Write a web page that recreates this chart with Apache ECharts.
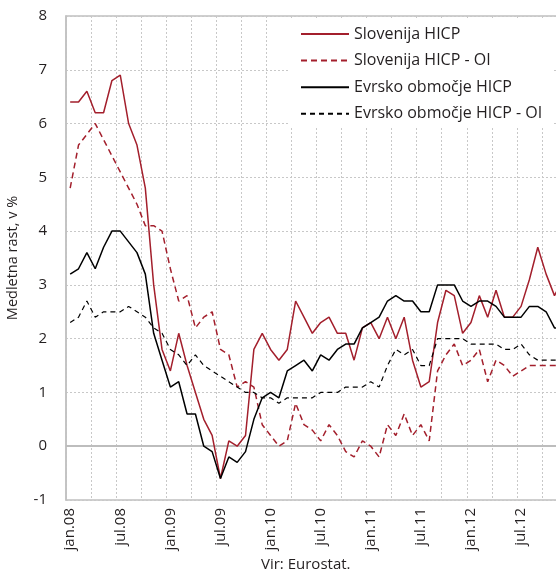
<!DOCTYPE html>
<html>
<head>
<meta charset="utf-8">
<script src="https://cdn.jsdelivr.net/npm/echarts@6/dist/echarts.min.js"></script>
<style>
html,body{margin:0;padding:0;background:#fff;overflow:hidden;width:556px;height:576px;}
#chart{width:567px;height:576px;}
</style>
</head>
<body>
<div id="chart"></div>
<script>
// Months jan.08 .. dec.12
const monthNames = ['jan','feb','mar','apr','maj','jun','jul','avg','sep','okt','nov','dec'];
const years = ['08','09','10','11','12'];
const categories = [];
years.forEach(y => monthNames.forEach(m => categories.push(m + '.' + y)));

const sloHICP = [
  6.4, 6.4, 6.6, 6.2, 6.2, 6.8, 6.9, 6.0, 5.6, 4.8, 3.0, 1.8,
  1.4, 2.1, 1.5, 1.0, 0.5, 0.2, -0.6, 0.1, 0.0, 0.2, 1.8, 2.1,
  1.8, 1.6, 1.8, 2.7, 2.4, 2.1, 2.3, 2.4, 2.1, 2.1, 1.6, 2.2,
  2.3, 2.0, 2.4, 2.0, 2.4, 1.6, 1.1, 1.2, 2.3, 2.9, 2.8, 2.1,
  2.3, 2.8, 2.4, 2.9, 2.4, 2.4, 2.6, 3.1, 3.7, 3.2, 2.8, 3.1
];
const sloCore = [
  4.8, 5.6, 5.8, 6.0, 5.7, 5.4, 5.1, 4.8, 4.5, 4.1, 4.1, 4.0,
  3.3, 2.7, 2.8, 2.2, 2.4, 2.5, 1.8, 1.7, 1.1, 1.2, 1.1, 0.4,
  0.2, 0.0, 0.1, 0.8, 0.4, 0.3, 0.1, 0.4, 0.2, -0.1, -0.2, 0.1,
  0.0, -0.2, 0.4, 0.2, 0.6, 0.2, 0.4, 0.1, 1.4, 1.7, 1.9, 1.5,
  1.6, 1.8, 1.2, 1.6, 1.5, 1.3, 1.4, 1.5, 1.5, 1.5, 1.5, 1.5
];
const euroHICP = [
  3.2, 3.3, 3.6, 3.3, 3.7, 4.0, 4.0, 3.8, 3.6, 3.2, 2.1, 1.6,
  1.1, 1.2, 0.6, 0.6, 0.0, -0.1, -0.6, -0.2, -0.3, -0.1, 0.5, 0.9,
  1.0, 0.9, 1.4, 1.5, 1.6, 1.4, 1.7, 1.6, 1.8, 1.9, 1.9, 2.2,
  2.3, 2.4, 2.7, 2.8, 2.7, 2.7, 2.5, 2.5, 3.0, 3.0, 3.0, 2.7,
  2.6, 2.7, 2.7, 2.6, 2.4, 2.4, 2.4, 2.6, 2.6, 2.5, 2.2, 2.2
];
const euroCore = [
  2.3, 2.4, 2.7, 2.4, 2.5, 2.5, 2.5, 2.6, 2.5, 2.4, 2.2, 2.1,
  1.8, 1.7, 1.5, 1.7, 1.5, 1.4, 1.3, 1.2, 1.1, 1.0, 1.0, 0.9,
  0.9, 0.8, 0.9, 0.9, 0.9, 0.9, 1.0, 1.0, 1.0, 1.1, 1.1, 1.1,
  1.2, 1.1, 1.5, 1.8, 1.7, 1.8, 1.5, 1.5, 2.0, 2.0, 2.0, 2.0,
  1.9, 1.9, 1.9, 1.9, 1.8, 1.8, 1.9, 1.7, 1.6, 1.6, 1.6, 1.6
];
const seriesNames = ['Slovenija HICP', 'Slovenija HICP - OI', 'Evrsko območje HICP', 'Evrsko območje HICP - OI'];
const yTicks = { min: -1, max: 8, step: 1 };
const yAxisTitle = 'Medletna rast, v %';
const sourceNote = 'Vir: Eurostat.';

const FONT = 'Open Sans';
const RED = '#a31f2c';
const BLACK = '#000000';
const GRIDC = '#c8c8c8';
const TXT = '#231f20';

const chart = echarts.init(document.getElementById('chart'), null, { renderer: 'canvas' });

function lineSeries(name, data, color, type, width) {
  return {
    name: name, type: 'line', data: data,
    symbol: 'none', showSymbol: false, smooth: false,
    lineStyle: { color: color, width: width, type: type },
    itemStyle: { color: color },
    emphasis: { disabled: true },
    z: 3
  };
}

const series = [
  lineSeries(seriesNames[0], sloHICP, RED, 'solid', 1.5),
  lineSeries(seriesNames[1], sloCore, RED, [6, 4], 1.5),
  lineSeries(seriesNames[2], euroHICP, BLACK, 'solid', 1.5),
  lineSeries(seriesNames[3], euroCore, BLACK, [5, 4], 1.2)
];
series[0].markLine = {
  silent: true, symbol: ['none', 'none'], label: { show: false },
  lineStyle: { color: '#bdbdbd', width: 2, type: 'solid' },
  data: [{ yAxis: 0 }], z: 1, animation: false
};

chart.setOption({
  animation: false,
  backgroundColor: '#ffffff',
  textStyle: { fontFamily: FONT },
  grid: {
    left: 66, top: 16, right: 0, bottom: 76,
    outerBoundsMode: 'none',
    show: true, borderColor: '#c0c0c0', borderWidth: 1.5, backgroundColor: 'transparent'
  },
  legend: {
    orient: 'vertical', left: 290, top: 20,
    padding: [6, 10, 6, 10],
    backgroundColor: '#ffffff',
    itemWidth: 48, itemHeight: 14, itemGap: 10.6,
    itemStyle: { opacity: 0 },
    textStyle: { fontFamily: FONT, fontSize: 16, color: TXT, lineHeight: 14 },
    data: seriesNames
  },
  xAxis: {
    type: 'category', data: categories, boundaryGap: true,
    axisLine: { show: true, lineStyle: { color: '#c0c0c0', width: 1.5 } },
    axisTick: { show: false },
    axisLabel: {
      interval: 5, rotate: 90, fontSize: 15, fontFamily: FONT, color: TXT, margin: 8
    },
    splitLine: { show: true, interval: 2, lineStyle: { color: GRIDC, type: [2, 2], width: 1 } }
  },
  yAxis: {
    type: 'value', min: yTicks.min, max: yTicks.max, interval: yTicks.step,
    name: yAxisTitle, nameLocation: 'middle', nameGap: 46,
    nameTextStyle: { fontFamily: FONT, fontSize: 14.5, color: TXT },
    axisLine: { show: true, lineStyle: { color: '#c0c0c0', width: 1.5 } },
    axisTick: { show: false },
    axisLabel: { fontSize: 15, fontFamily: FONT, color: TXT, margin: 19 },
    splitLine: { show: true, lineStyle: { color: GRIDC, type: [2, 2], width: 1 } }
  },
  graphic: [{
    type: 'text', left: 261, top: 557,
    style: { text: sourceNote, fontFamily: FONT, fontSize: 15, fill: TXT }
  }],
  series: series
});
</script>
</body>
</html>
